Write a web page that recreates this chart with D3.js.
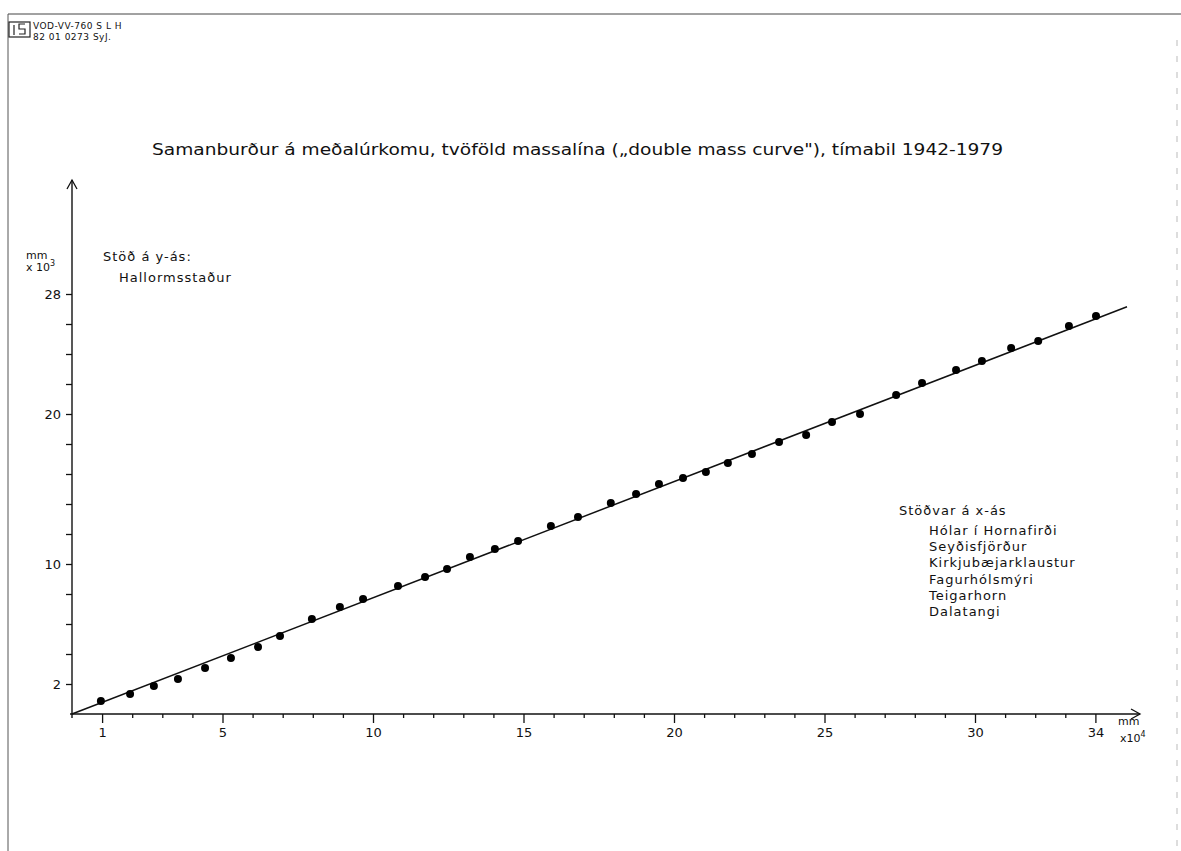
<!DOCTYPE html>
<html>
<head>
<meta charset="utf-8">
<script src="https://cdn.jsdelivr.net/npm/d3@7"></script>
<style>
  body { margin: 0; background: #fff; }
  svg { display: block; }
  text { font-family: "DejaVu Sans", "Liberation Sans", sans-serif; fill: #111; }
</style>
</head>
<body>
<svg id="chart" width="1181" height="851"></svg>
<script>
// cumulative precipitation, x = mean of x-stations (mm x10^4), y = Hallormsstaður (mm x10^3)
const xValues = [0.96, 1.93, 2.72, 3.52, 4.42, 5.28, 6.18, 6.91, 7.97, 8.9,
  9.67, 10.83, 11.73, 12.46, 13.22, 14.05, 14.82, 15.91, 16.81, 17.9,
  18.74, 19.5, 20.3, 21.06, 21.79, 22.59, 23.49, 24.39, 25.25, 26.18,
  27.38, 28.24, 29.37, 30.23, 31.2, 32.1, 33.12, 34.02];
const yValues = [0.87, 1.33, 1.87, 2.33, 3.07, 3.73, 4.47, 5.2, 6.33, 7.13,
  7.67, 8.53, 9.13, 9.67, 10.47, 11.0, 11.53, 12.53, 13.13, 14.07,
  14.67, 15.33, 15.73, 16.13, 16.73, 17.33, 18.13, 18.6, 19.47, 20.0,
  21.27, 22.07, 22.93, 23.53, 24.4, 24.87, 25.87, 26.53];

// straight reference line
const lineX = [0, 35.05];
const lineY = [0, 27.15];

const xTicks = d3.range(1, 35);
const xLabels = [1, 5, 10, 15, 20, 25, 30, 34];
const yTicks = d3.range(2, 30, 2);
const yLabels = [2, 10, 20, 28];

const title = "Samanburður á meðalúrkomu, tvöföld massalína („double mass curve\"), tímabil 1942-1979";
const yStationTitle = "Stöð á y-ás:";
const yStation = "Hallormsstaður";
const xStationTitle = "Stöðvar á x-ás";
const xStations = ["Hólar í Hornafirði", "Seyðisfjörður", "Kirkjubæjarklaustur",
  "Fagurhólsmýri", "Teigarhorn", "Dalatangi"];

const svg = d3.select("#chart");

let x0 = 72, y0 = 714;
var x = d3.scaleLinear().domain([0, 34]).range([x0, x0 + 34 * 30.1]);
var y = d3.scaleLinear().domain([0, 28]).range([y0, y0 - 28 * 15]);

// sheet border and stamp
svg.append("line").attr("x1", 8).attr("x2", 1181).attr("y1", 14).attr("y2", 14)
  .attr("stroke", "#444").attr("stroke-width", 1);
svg.append("line").attr("x1", 8).attr("x2", 8).attr("y1", 14).attr("y2", 851)
  .attr("stroke", "#555").attr("stroke-width", 1);
svg.append("line").attr("x1", 1177).attr("x2", 1177).attr("y1", 40).attr("y2", 851)
  .attr("stroke", "#bbb").attr("stroke-width", 1).attr("stroke-dasharray", "6 10");

const stamp = svg.append("g").attr("stroke", "#222").attr("fill", "none").attr("stroke-width", 1.2);
stamp.append("rect").attr("x", 9).attr("y", 22).attr("width", 21).attr("height", 15);
stamp.append("line").attr("x1", 14).attr("x2", 14).attr("y1", 25).attr("y2", 35);
stamp.append("path").attr("d", "M25,24 H19 V29 H25 V34 H19");
svg.append("text").attr("x", 33).attr("y", 29).attr("font-size", 9)
  .attr("letter-spacing", 0.5).text("VOD-VV-760 S L H");
svg.append("text").attr("x", 33).attr("y", 40).attr("font-size", 9)
  .attr("letter-spacing", 0.5).text("82 01 0273 SyJ.");

// title
svg.append("text").attr("x", 152).attr("y", 155).attr("font-size", 16)
  .attr("textLength", 851).attr("lengthAdjust", "spacingAndGlyphs").text(title);

// X axis
const xAxis = svg.append("g")
  .attr("transform", `translate(0, ${y0})`)
  .call(d3.axisBottom(x).tickValues(xTicks).tickSize(4).tickSizeOuter(0)
    .tickFormat(d => xLabels.includes(d) ? d : ""));
xAxis.select(".domain").remove();
xAxis.selectAll(".tick line").attr("stroke", "#111").attr("stroke-width", 1.3)
  .attr("y2", d => xLabels.includes(d) ? 9 : 4);
xAxis.selectAll(".tick text").attr("y", 14).attr("font-size", 13)
  .attr("font-family", "DejaVu Sans").attr("fill", "#111");
svg.append("line").attr("x1", x0 - 2).attr("x2", 1140).attr("y1", y0).attr("y2", y0)
  .attr("stroke", "#111").attr("stroke-width", 1.4);
svg.append("path").attr("d", "M1131,709 L1140,714 L1131,719")
  .attr("fill", "none").attr("stroke", "#111").attr("stroke-width", 1.3);
svg.append("text").attr("x", 1118).attr("y", 725).attr("font-size", 11).text("mm");
svg.append("text").attr("x", 1120).attr("y", 742).attr("font-size", 11)
  .html('x10<tspan dy="-5" font-size="8">4</tspan>');

// Y axis
const yAxis = svg.append("g")
  .attr("transform", `translate(${x0}, 0)`)
  .call(d3.axisLeft(y).tickValues(yTicks).tickSize(6).tickSizeOuter(0)
    .tickFormat(d => yLabels.includes(d) ? d : ""));
yAxis.select(".domain").remove();
yAxis.selectAll(".tick line").attr("stroke", "#111").attr("stroke-width", 1.3);
yAxis.selectAll(".tick text").attr("x", -11).attr("font-size", 13)
  .attr("font-family", "DejaVu Sans").attr("fill", "#111");
svg.append("line").attr("x1", x0).attr("x2", x0).attr("y1", y0 + 4).attr("y2", 180)
  .attr("stroke", "#111").attr("stroke-width", 1.4);
svg.append("path").attr("d", "M67,189 L72,180 L77,189")
  .attr("fill", "none").attr("stroke", "#111").attr("stroke-width", 1.3);
svg.append("text").attr("x", 26).attr("y", 259).attr("font-size", 11).text("mm");
svg.append("text").attr("x", 26).attr("y", 271).attr("font-size", 11)
  .html('x 10<tspan dy="-5" font-size="8">3</tspan>');

// station notes
svg.append("text").attr("x", 103).attr("y", 261).attr("font-size", 13)
  .attr("letter-spacing", 1).text(yStationTitle);
svg.append("text").attr("x", 119).attr("y", 282).attr("font-size", 13)
  .attr("letter-spacing", 1).text(yStation);
svg.append("text").attr("x", 899).attr("y", 515).attr("font-size", 13)
  .attr("letter-spacing", 1).text(xStationTitle);
svg.append("g").selectAll("text")
  .data(xStations)
  .enter()
  .append("text")
  .attr("x", 929)
  .attr("y", (d, i) => 535 + i * 16.2)
  .attr("font-size", 13)
  .attr("letter-spacing", 1)
  .text(d => d);

// reference line
svg.append("line")
  .attr("x1", x(lineX[0])).attr("y1", y(lineY[0]))
  .attr("x2", x(lineX[1])).attr("y2", y(lineY[1]))
  .attr("stroke", "#111").attr("stroke-width", 1.5);

// points
svg.append("g")
  .selectAll("circle")
  .data(xValues)
  .enter()
  .append("circle")
  .attr("cx", d => x(d))
  .attr("cy", (d, i) => y(yValues[i]))
  .attr("r", 4)
  .attr("fill", "#000");
</script>
</body>
</html>
